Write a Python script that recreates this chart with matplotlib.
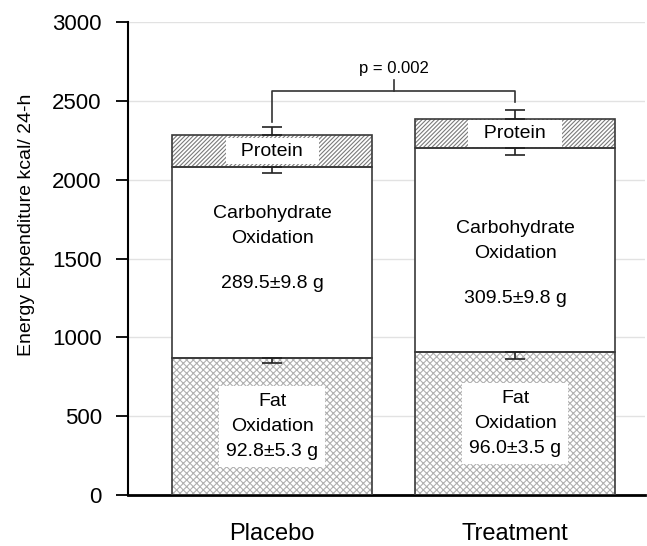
import numpy as np
import matplotlib.pyplot as plt

plt.rcParams['font.family'] = ['Liberation Sans', 'DejaVu Sans']
plt.rcParams['hatch.linewidth'] = 0.8

groups = ["Placebo", "Treatment"]
fat = [869, 907]
carb = [1211, 1293]
protein = [203, 186]
fat_err = [32, 42]
carb_err = [40, 44]
total_err = [50, 57]
fat_text = ["92.8±5.3 g", "96.0±3.5 g"]
carb_text = ["289.5±9.8 g", "309.5±9.8 g"]
p_text = "p = 0.002"

x = np.arange(len(groups))
fat = np.array(fat)
carb = np.array(carb)
protein = np.array(protein)
carb_top = fat + carb
total = carb_top + protein

fig = plt.figure(figsize=(6.47, 5.46), dpi=100)
ax = fig.add_axes([0.198, 0.0934, 0.799, 0.8663])

w = 0.823
edge = '#3a3a3a'
# hatch layers first (lighter hatch colour), then outlines on top
ax.bar(x, fat, w, color='white', edgecolor='#b0b0b0', hatch='xxxxx', lw=0, zorder=2)
ax.bar(x, protein, w, bottom=carb_top, color='white', edgecolor='#7a7a7a', hatch='////////', lw=0, zorder=2)
ax.bar(x, carb, w, bottom=fat, color='white', edgecolor=edge, lw=1.2, zorder=2)
ax.bar(x, fat, w, color='none', edgecolor=edge, lw=1.2, zorder=3)
ax.bar(x, protein, w, bottom=carb_top, color='none', edgecolor=edge, lw=1.2, zorder=3)

# one-sided error bars
eb = dict(fmt='none', ecolor='#222', capsize=7, lw=1.2, capthick=1.2, zorder=4)
ax.errorbar(x, total, yerr=[np.zeros(2), total_err], **eb)
ax.errorbar(x, carb_top, yerr=[carb_err, np.zeros(2)], **eb)
ax.errorbar(x, fat, yerr=[fat_err, np.zeros(2)], **eb)

# where the carbohydrate labels sit (fraction of the carb segment, from its top)
carb_name_pos = [0.31, 0.455]
carb_val_pos = [0.61, 0.74]

box = dict(facecolor='white', edgecolor='none', pad=3.5)
for i in x:
    ax.text(i, carb_top[i] + protein[i] / 2, "  Protein  ", ha='center', va='center', fontsize=14, bbox=box, zorder=5)
    ax.text(i, carb_top[i] - carb_name_pos[i] * carb[i], "Carbohydrate\nOxidation", ha='center', va='center',
            fontsize=14, linespacing=1.65, zorder=5)
    ax.text(i, carb_top[i] - carb_val_pos[i] * carb[i], carb_text[i], ha='center', va='center', fontsize=14, zorder=5)
    ax.text(i, fat[i] * 0.5, "Fat\nOxidation\n" + fat_text[i], ha='center', va='center', fontsize=14,
            linespacing=1.6, zorder=5, bbox=dict(facecolor='white', edgecolor='none', pad=5))

# significance bracket
yb = 2560
ax.plot([0, 0, 1, 1], [2365, yb, yb, 2490], color='#333', lw=1.2, zorder=4)
ax.plot([0.5, 0.5], [yb, 2630], color='#333', lw=1.2, zorder=4)
ax.text(0.5, 2655, p_text, ha='center', va='bottom', fontsize=12)

ax.set_xlim(-0.593, 1.535)
ax.set_ylim(0, 3000)
ax.set_yticks(np.arange(0, 3001, 500))
ax.set_xticks(x)
ax.set_xticklabels(groups, fontsize=17)
ax.tick_params(axis='y', labelsize=16, length=9, width=1.3, direction='out', pad=10)
ax.tick_params(axis='x', length=0, pad=20)
ax.set_ylabel("Energy Expenditure kcal/ 24-h", fontsize=14)
ax.yaxis.set_label_coords(-0.18, 0.571)
ax.grid(axis='y', color='#e2e2e2', lw=1, zorder=0)
ax.set_axisbelow(True)
for s in ['top', 'right']:
    ax.spines[s].set_visible(False)
ax.spines['left'].set_linewidth(1.5)
ax.spines['bottom'].set_linewidth(2)

fig.savefig("out.png", dpi=100)
